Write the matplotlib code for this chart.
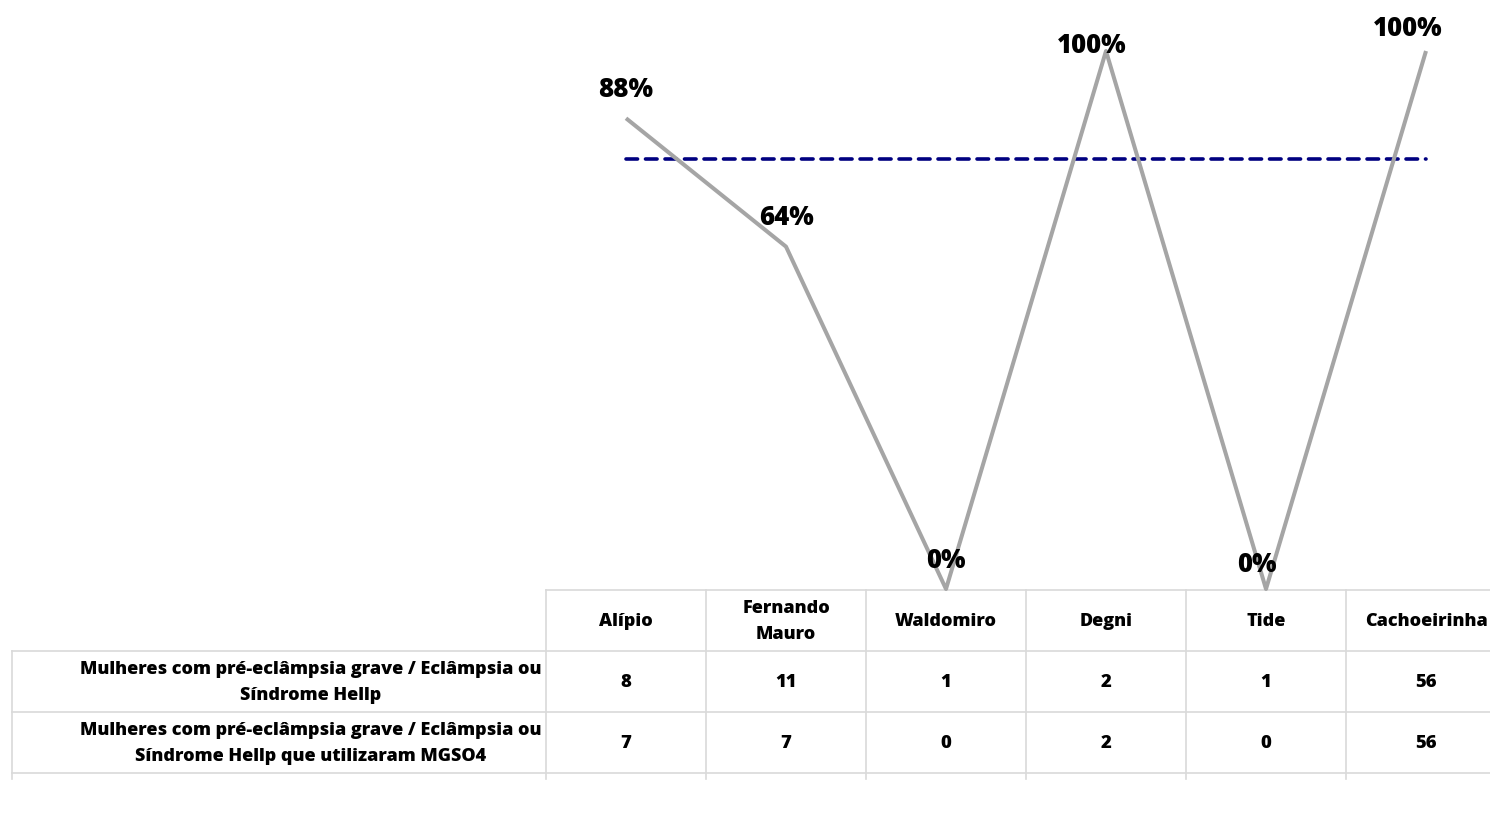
import matplotlib
matplotlib.use("Agg")
import matplotlib.pyplot as plt

categories = ["Alípio", "Fernando\nMauro", "Waldomiro", "Degni", "Tide", "Cachoeirinha"]
row_labels = ["Mulheres com pré-eclâmpsia grave / Eclâmpsia ou\nSíndrome Hellp",
              "Mulheres com pré-eclâmpsia grave / Eclâmpsia ou\nSíndrome Hellp que utilizaram MGSO4"]
total_women = [8, 11, 1, 2, 1, 56]
women_mgso4 = [7, 7, 0, 2, 0, 56]
percentages = [100.0 * u / t for u, t in zip(women_mgso4, total_women)]
target = 80

plt.rcParams['font.family'] = ['Open Sans', 'DejaVu Sans']
WEIGHT = 800

W, H = 1490, 837
fig = plt.figure(figsize=(W / 100, H / 100), dpi=100)
ax = fig.add_axes([0, 0, 1, 1])

# pixel mapping (from top-left of image) -> data
x0_px, dx_px = 626, 160
y0_px, ppu = 590, 5.38
ax.set_xlim((0 - x0_px) / dx_px, (W - x0_px) / dx_px)
ax.set_ylim((y0_px - H) / ppu, y0_px / ppu)
ax.axis("off")

def ydata(py):
    return (y0_px - py) / ppu

def xdata(px):
    return (px - x0_px) / dx_px

n = len(categories)
xs = list(range(n))

# target line
ax.plot([0, n - 1], [target, target], color="#000080", lw=2.6, ls=(0, (3.2, 2.2)),
        dash_capstyle="round", zorder=2)
# percentage line
ax.plot(xs, percentages, color="#a5a5a5", lw=2.9, solid_capstyle="butt", zorder=3)

# data labels (offsets in pixels)
label_offsets = [(0, 29), (0, 30), (0, 29), (-14, 6), (-9, 25), (-18, 23)]
for i, (p, (ox, oy)) in enumerate(zip(percentages, label_offsets)):
    ax.annotate(f"{p:.0f}%", (i, p), xytext=(ox * 0.72, oy * 0.72), textcoords="offset points",
                ha="center", va="center", fontsize=18.5, fontweight=WEIGHT, color="black", zorder=4)

# table
grid_color = "#d9d9d9"
row_edges_px = [591, 652, 713, 774]
stub_bottom_px = 780
left_px = 12
col_edges = [i - 0.5 for i in range(n + 1)]

# header top line
ax.plot([col_edges[0], xdata(W)], [ydata(row_edges_px[0])] * 2, color=grid_color, lw=1.2)
for r in row_edges_px[1:]:
    ax.plot([xdata(left_px), xdata(W)], [ydata(r)] * 2, color=grid_color, lw=1.2)
for ce in col_edges:
    ax.plot([ce, ce], [ydata(row_edges_px[0]), ydata(stub_bottom_px)], color=grid_color, lw=1.2)
ax.plot([xdata(left_px)] * 2, [ydata(row_edges_px[1]), ydata(stub_bottom_px)], color=grid_color, lw=1.2)

# header texts
for i, c in enumerate(categories):
    ax.text(i, ydata((row_edges_px[0] + row_edges_px[1]) / 2), c, ha="center", va="center",
            fontsize=13, fontweight=WEIGHT, linespacing=1.7)

rows = [total_women, women_mgso4]
for r, (lab, vals) in enumerate(zip(row_labels, rows)):
    yc = ydata((row_edges_px[r + 1] + row_edges_px[r + 2]) / 2)
    ax.text(xdata(311), yc, lab, ha="center", va="center", fontsize=13, fontweight=WEIGHT,
            linespacing=1.75)
    for i, v in enumerate(vals):
        ax.text(i, yc, str(v), ha="center", va="center", fontsize=13.3, fontweight=WEIGHT)

fig.savefig("out.png", dpi=100, facecolor="white")
